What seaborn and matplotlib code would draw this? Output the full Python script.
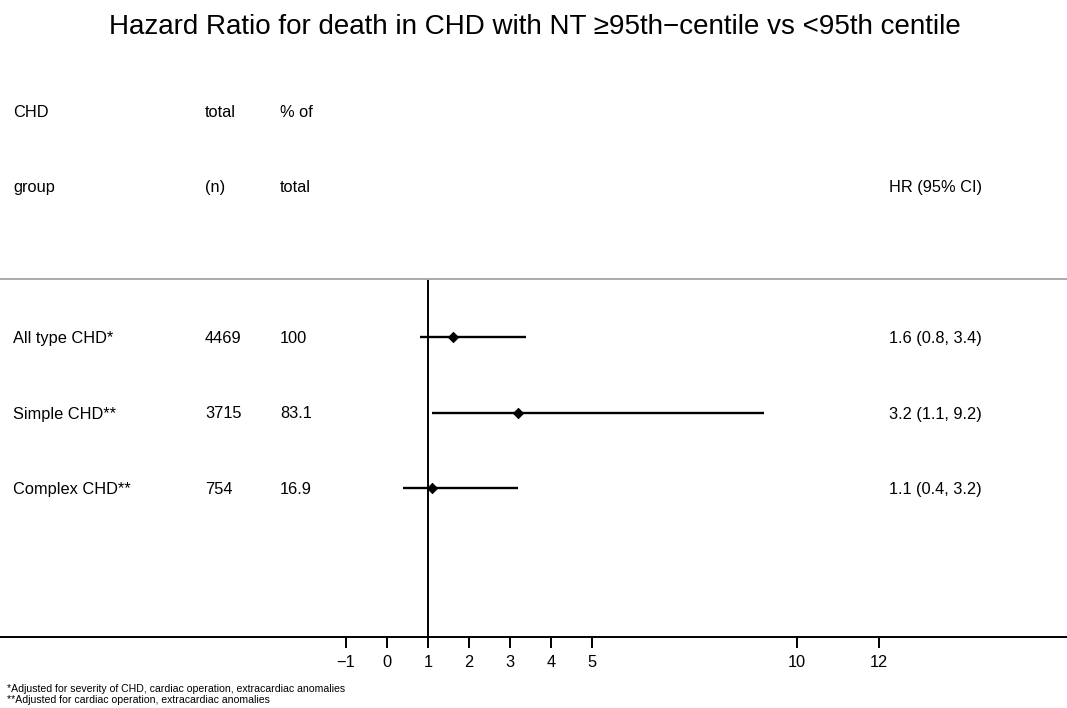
import numpy as np
import pandas as pd
import matplotlib
matplotlib.use("Agg")
import matplotlib.pyplot as plt
import matplotlib.transforms as mtransforms
import seaborn as sns

# data
groups = ["All type CHD*", "Simple CHD**", "Complex CHD**"]
totals = ["4469", "3715", "754"]
pct_total = ["100", "83.1", "16.9"]
hr = [1.6, 3.2, 1.1]
ci_low = [0.8, 1.1, 0.4]
ci_high = [3.4, 9.2, 3.2]
hr_labels = ["1.6 (0.8, 3.4)", "3.2 (1.1, 9.2)", "1.1 (0.4, 3.2)"]
xticks = [-1, 0, 1, 2, 3, 4, 5, 10, 12]

title = "Hazard Ratio for death in CHD with NT \u226595th\u2212centile vs <95th centile"
notes = ["*Adjusted for severity of CHD, cardiac operation, extracardiac anomalies",
         "**Adjusted for cardiac operation, extracardiac anomalies"]

df = pd.DataFrame({"group": groups, "row": [1, 2, 3], "hr": hr,
                   "lo": ci_low, "hi": ci_high})

sns.set_style("white")
plt.rcParams["font.family"] = ["Liberation Sans", "DejaVu Sans"]
plt.rcParams["text.color"] = "black"
plt.rcParams["xtick.color"] = "black"
plt.rcParams["xtick.labelcolor"] = "black"

W, H = 1067, 708
fig = plt.figure(figsize=(W / 100, H / 100), dpi=100)
ax = fig.add_axes([0, (H - 637) / H, 1, (637 - 279) / H])

# confidence intervals and point estimates
ax.hlines(df["row"], df["lo"], df["hi"], color="black", lw=1.7)
sns.scatterplot(data=df, x="hr", y="row", marker="D", s=28, color="black",
                edgecolor="black", linewidth=0.6, ax=ax, zorder=3)
ax.axvline(1, color="black", lw=1.4)

ax.set_xlim(1 - 428 / 41, 1 + (W - 428) / 41)
ax.set_ylim(3 + 149 / 75.5, 1 - 58 / 75.5)
ax.set_xticks(xticks)
ax.set_yticks([])
ax.set_xlabel("")
ax.set_ylabel("")
ax.tick_params(axis="x", direction="out", length=8, width=1.4, labelsize=11.8,
               pad=5, bottom=True, colors="black")
for side in ["left", "right"]:
    ax.spines[side].set_visible(False)
ax.spines["bottom"].set_color("black")
ax.spines["bottom"].set_linewidth(1.4)
ax.spines["top"].set_color("#aaaaaa")
ax.spines["top"].set_linewidth(1.4)

# table columns: x in figure fraction, y in data rows
tr = mtransforms.blended_transform_factory(fig.transFigure, ax.transData)
cols = [13 / W, 205 / W, 280 / W, 889 / W]
fs = 11.8
header1 = ["CHD", "total", "% of", ""]
header2 = ["group", "(n)", "total", "HR (95% CI)"]
for x, a, b in zip(cols, header1, header2):
    ax.text(x, -2, a, transform=tr, fontsize=fs, va="center_baseline", ha="left", clip_on=False)
    ax.text(x, -1, b, transform=tr, fontsize=fs, va="center_baseline", ha="left", clip_on=False)
for r, g, n, p, h in zip(df["row"], groups, totals, pct_total, hr_labels):
    for x, t in zip(cols, [g, n, p, h]):
        ax.text(x, r, t, transform=tr, fontsize=fs, va="center_baseline", ha="left", clip_on=False)

fig.text(535 / W, 1 - 27 / H, title, fontsize=20, ha="center", va="center")
fig.text(7 / W, 1 - 689 / H, notes[0], fontsize=7.6, ha="left", va="center")
fig.text(7 / W, 1 - 700 / H, notes[1], fontsize=7.6, ha="left", va="center")

fig.savefig("out.png", dpi=100)
